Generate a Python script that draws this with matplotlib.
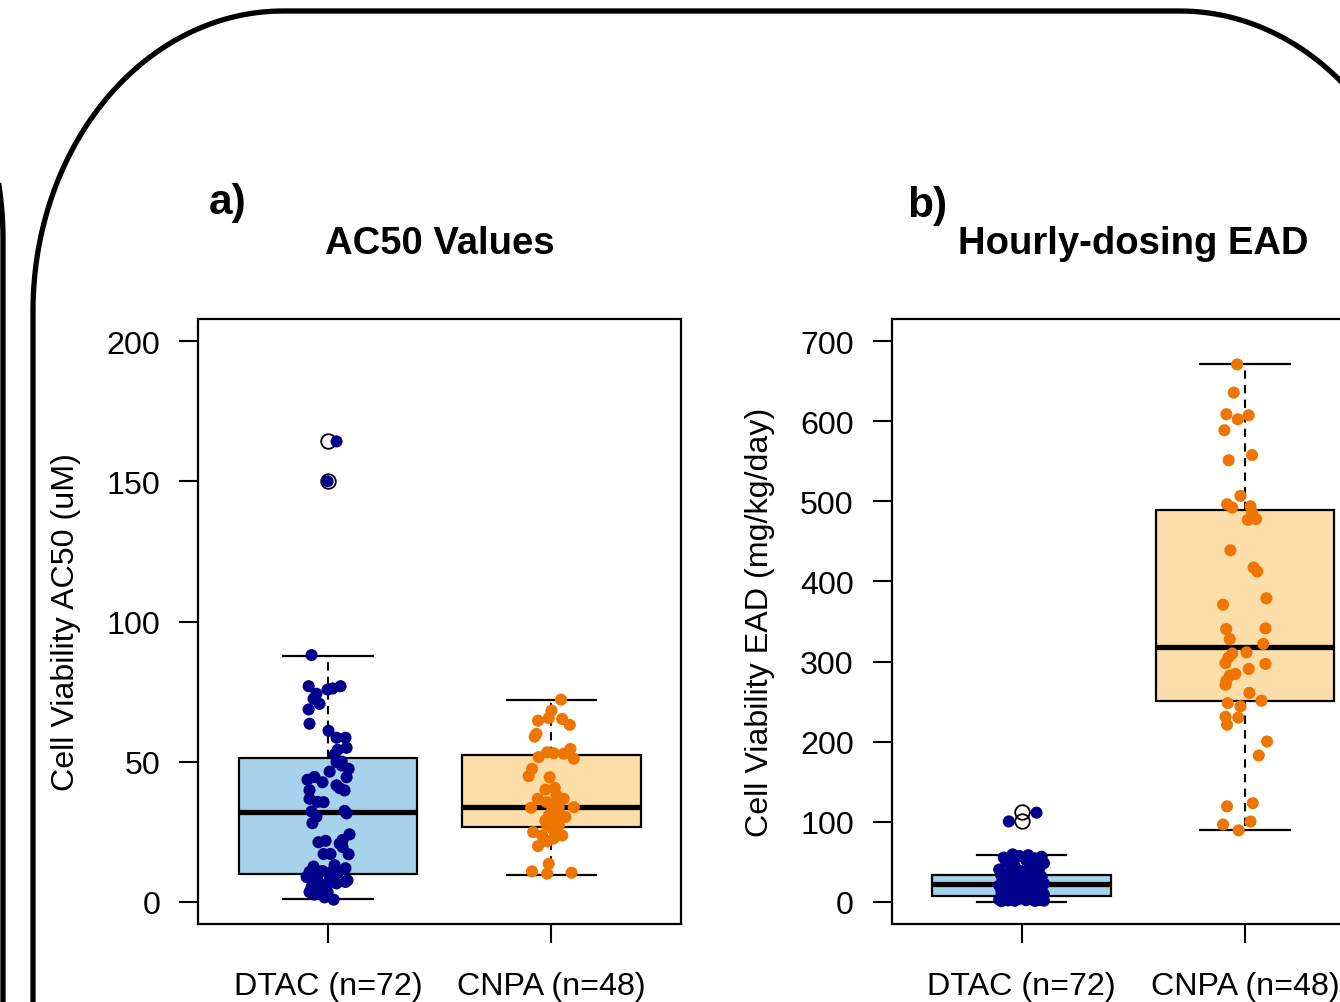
import numpy as np
import matplotlib
matplotlib.use("Agg")
import matplotlib.pyplot as plt
from matplotlib.lines import Line2D

plt.rcParams['font.family'] = ['Liberation Sans', 'DejaVu Sans']

# ---------------- data ----------------
categories = ["DTAC (n=72)", "CNPA (n=48)"]
titles = ["AC50 Values", "Hourly-dosing EAD"]
panel_tags = ["a)", "b)"]
ylabels = ["Cell Viability AC50 (uM)", "Cell Viability EAD (mg/kg/day)"]
yticks_a = [0, 50, 100, 150, 200]
yticks_b = [0, 100, 200, 300, 400, 500, 600, 700]

# box statistics (whislo, q1, median, q3, whishi)
a_dtac_box = [0.8, 10.0, 32.0, 51.2, 87.8]
a_dtac_out = [150.1, 164.3]
a_cnpa_box = [9.5, 26.6, 33.9, 52.4, 72.0]
a_cnpa_out = []
b_dtac_box = [0.0, 6.8, 21.5, 33.8, 58.6]
b_dtac_out = [100.6, 111.5]
b_cnpa_box = [89.0, 250.4, 317.8, 489.0, 671.3]
b_cnpa_out = []

# jittered points (value, jitter offset in category units)
a_dtac_vals = [164.3, 150.1, 88.0, 76.9, 75.7, 76.1, 76.9, 74.2, 72.4, 70.6, 68.6, 63.5,
               61.0, 58.5, 58.5, 54.9, 54.2, 52.5, 50.0, 49.8, 48.6, 47.4, 46.4, 44.4,
               43.5, 42.6, 41.5, 40.5, 39.7, 39.8, 36.7, 35.6, 35.5, 32.2, 30.3, 32.4,
               31.5, 24.0, 21.2, 21.7, 20.7, 22.0, 17.0, 17.0, 16.9, 11.9, 10.6, 10.9,
               10.9, 10.6, 10.2, 8.8, 7.6, 7.6, 5.2, 4.6, 5.8, 3.4, 3.4, 0.7,
               7.0, 9.5, 8.0, 6.5, 4.0, 2.5, 12.5, 28.0, 44.5, 19.5, 13.0, 1.5]
a_dtac_jit = [0.038, -0.002, -0.074, -0.087, -0.002, 0.020, 0.056, -0.052, -0.065, -0.038, -0.087, -0.083,
              0.002, 0.038, 0.078, 0.083, 0.043, 0.029, 0.061, 0.038, 0.061, 0.092, 0.007, 0.083,
              -0.092, -0.025, 0.038, 0.052, 0.074, -0.083, -0.083, -0.047, -0.020, -0.074, -0.052, 0.074,
              0.083, 0.096, -0.043, -0.011, 0.052, 0.065, -0.020, 0.011, 0.092, 0.078, -0.083, -0.052,
              -0.025, 0.016, 0.043, -0.096, 0.087, -0.047, -0.074, -0.029, -0.007, -0.083, -0.002, 0.025,
              0.078, -0.070, 0.007, 0.038, -0.047, -0.061, -0.065, -0.070, -0.061, 0.065, 0.029, -0.016]

a_cnpa_vals = [72.1, 68.2, 65.5, 64.6, 65.2, 63.1, 59.9, 58.9, 51.6, 53.3, 53.0, 52.8,
               54.5, 51.0, 47.4, 44.8, 44.4, 40.0, 40.6, 36.7, 36.7, 34.9, 33.5, 33.7,
               33.7, 30.7, 30.2, 28.9, 28.9, 27.2, 27.2, 24.8, 23.6, 23.6, 21.5, 19.8,
               13.5, 10.8, 10.0, 10.3, 32.0, 31.0, 29.5, 26.0, 25.5, 35.5, 38.0, 22.5]
a_cnpa_jit = [0.043, 0.000, -0.012, -0.060, 0.048, 0.082, -0.067, -0.075, -0.057, -0.019, 0.010, 0.055,
              0.085, 0.100, -0.087, -0.102, -0.008, -0.027, 0.015, -0.061, 0.055, 0.010, -0.091, 0.100,
              0.033, -0.012, 0.063, -0.027, 0.018, -0.019, 0.033, -0.082, 0.048, -0.042, -0.019, -0.060,
              -0.012, -0.087, -0.019, 0.090, 0.000, 0.040, -0.013, 0.004, 0.022, -0.022, 0.022, 0.009]

b_dtac_vals = [0.5, 0.8, 1.0, 1.2, 1.5, 1.8, 2.0, 2.5, 3.0, 3.5, 4.0, 4.5, 5.0, 5.5, 6.0, 6.5, 7.0, 7.5,
               8.0, 9.0, 10.0, 11.0, 12.0, 13.0, 14.0, 15.0, 16.0, 17.0, 18.0, 19.0, 20.0, 21.0, 21.5, 22.0, 22.5,
               23.0, 24.0, 25.0, 26.0, 27.0, 28.0, 29.0, 30.0, 31.0, 32.0, 33.0, 34.0,
               35.0, 36.0, 37.0, 38.0, 40.0, 42.0, 44.0, 46.0, 48.0, 50.0, 52.0, 53.0, 54.0, 55.0, 56.0, 57.0, 58.0, 59.0,
               2.2, 4.8, 6.8, 26.5, 31.5, 100.2, 111.1]
b_dtac_jit = [-0.09, 0.06, -0.03, 0.10, -0.06, 0.02, 0.08, -0.10, 0.04, -0.01, 0.09, -0.07, 0.01, 0.07, -0.04, 0.05, -0.08, 0.03,
              -0.05, 0.10, -0.02, 0.06, -0.09, 0.03, 0.08, -0.06, 0.00, 0.09, -0.03, 0.05, -0.10, 0.07, -0.05, 0.02, 0.10,
              -0.08, 0.04, -0.01, 0.08, -0.07, 0.01, 0.06, -0.04, 0.09, -0.09, 0.03, -0.02,
              0.07, -0.06, 0.05, 0.00, -0.10, 0.08, -0.03, 0.04, 0.10, -0.07, 0.02, -0.05, 0.06, -0.08, 0.09, -0.01, 0.03,
              -0.04, 0.07, 0.01, -0.09, 0.05, -0.06, -0.057, 0.067]

b_cnpa_vals = [671.3, 636.0, 609.0, 602.7, 607.7, 589.0, 551.5, 558.0, 507.0, 496.6, 492.4, 494.0,
               486.5, 477.0, 478.0, 439.0, 417.5, 412.5, 379.0, 371.0, 340.6, 341.4, 328.0, 322.0,
               310.0, 311.4, 298.0, 297.0, 290.7, 284.5, 282.4, 276.0, 271.0, 260.8, 251.0, 248.0,
               244.0, 231.0, 230.0, 221.0, 200.0, 182.6, 119.0, 123.0, 96.3, 100.0, 89.0, 305.0]
b_cnpa_jit = [-0.035, -0.050, -0.083, -0.032, 0.017, -0.092, -0.073, 0.032, -0.020, -0.080, -0.057, 0.025,
              0.032, 0.013, 0.050, -0.065, 0.039, 0.055, 0.096, -0.098, -0.084, 0.092, -0.068, 0.082,
              -0.057, 0.007, -0.087, 0.092, 0.017, -0.043, -0.068, -0.083, -0.087, 0.020, 0.074, -0.077,
              -0.020, -0.087, -0.030, -0.080, 0.099, 0.062, -0.080, 0.035, -0.098, 0.025, -0.028, -0.074]

# ---------------- styling ----------------
W, H = 1340, 1003
fig = plt.figure(figsize=(W / 100, H / 100), dpi=100)
fig.patch.set_facecolor("white")

fill_cols = ["#A6D3EB", "#FDDDAA"]
pt_cols = ["#00008B", "#EE7600"]
FS = 23.2


def px_axes(left, top, right, bottom):
    return [left / W, 1 - bottom / H, (right - left) / W, (bottom - top) / H]


def make_stats(box, out, label):
    return dict(whislo=box[0], q1=box[1], med=box[2], q3=box[3], whishi=box[4],
                fliers=out, label=label)


def draw_panel(ax, boxes, outs, vals, jits, yticks, ylim):
    stats = [make_stats(b, o, c) for b, o, c in zip(boxes, outs, categories)]
    res = ax.bxp(stats, positions=[1, 2], widths=0.8, capwidths=0.4, patch_artist=True,
                 showfliers=True,
                 boxprops=dict(linewidth=1.6, edgecolor="black"),
                 medianprops=dict(linewidth=3.8, color="black", solid_capstyle="butt"),
                 whiskerprops=dict(linewidth=1.5, linestyle=(0, (4, 3)), color="black"),
                 capprops=dict(linewidth=1.6, color="black"),
                 flierprops=dict(marker="o", markersize=10.5, markerfacecolor="none",
                                 markeredgecolor="black", markeredgewidth=1.3),
                 zorder=2)
    for patch, fc in zip(res["boxes"], fill_cols):
        patch.set_facecolor(fc)
    for i, (v, j) in enumerate(zip(vals, jits)):
        ax.scatter(np.array(j) + (i + 1), v, s=76, color=pt_cols[i], edgecolors="none", zorder=4)
    ax.set_xlim(0.42, 2.58)
    ax.set_ylim(*ylim)
    ax.set_xticks([1, 2])
    ax.set_xticklabels(categories, fontsize=FS)
    ax.set_yticks(yticks)
    ax.set_yticklabels([str(t) for t in yticks], fontsize=FS)
    ax.tick_params(axis="both", direction="out", length=13.5, width=1.5, color="black")
    ax.tick_params(axis="y", pad=14)
    ax.tick_params(axis="x", pad=20)
    for s in ax.spines.values():
        s.set_linewidth(1.6)


ax_a = fig.add_axes(px_axes(198.5, 320, 681, 925))
draw_panel(ax_a, [a_dtac_box, a_cnpa_box], [a_dtac_out, a_cnpa_out],
           [a_dtac_vals, a_cnpa_vals], [a_dtac_jit, a_cnpa_jit], yticks_a, (-8, 208))

ax_b = fig.add_axes(px_axes(892, 320, 1374.5, 925))
draw_panel(ax_b, [b_dtac_box, b_cnpa_box], [b_dtac_out, b_cnpa_out],
           [b_dtac_vals, b_cnpa_vals], [b_dtac_jit, b_cnpa_jit], yticks_b, (-28, 728))

for ax, lab in zip([ax_a, ax_b], ylabels):
    ax.text(-0.2746, 0.5, lab, transform=ax.transAxes, rotation=90,
            ha="center", va="center", fontsize=FS)

# titles and panel tags
fig.text(440 / W, 1 - 244 / H, titles[0], ha="center", va="center", fontsize=27.5, fontweight="bold")
fig.text(1133 / W, 1 - 244 / H, titles[1], ha="center", va="center", fontsize=27.5, fontweight="bold")
fig.text(209 / W, 1 - 203 / H, panel_tags[0], ha="left", va="center", fontsize=30.5, fontweight="bold")
fig.text(907 / W, 1 - 206 / H, panel_tags[1], ha="left", va="center", fontsize=30.5, fontweight="bold")


# rounded frame (decoration)
def rounded_frame(left, top, right, bottom, rx, ry):
    t = np.linspace(0, np.pi / 2, 60)
    xs, ys = [], []
    xs += [left]; ys += [bottom]
    cx, cy = left + rx, top + ry
    xs += list(cx - rx * np.cos(t)); ys += list(cy - ry * np.sin(t))
    cx, cy = right - rx, top + ry
    xs += list(cx + rx * np.sin(t)); ys += list(cy - ry * np.cos(t))
    xs += [right]; ys += [bottom]
    return np.array(xs) / W, 1 - np.array(ys) / H


fx, fy = rounded_frame(33, 12, 1430, 1200, 250, 300)
fig.add_artist(Line2D(fx, fy, transform=fig.transFigure, color="black", lw=3.8, clip_on=False))
fx2, fy2 = rounded_frame(-1500, -60, 3, 1200, 250, 300)
fig.add_artist(Line2D(fx2, fy2, transform=fig.transFigure, color="black", lw=3.8, clip_on=False))

fig.savefig("out.png", dpi=100)
